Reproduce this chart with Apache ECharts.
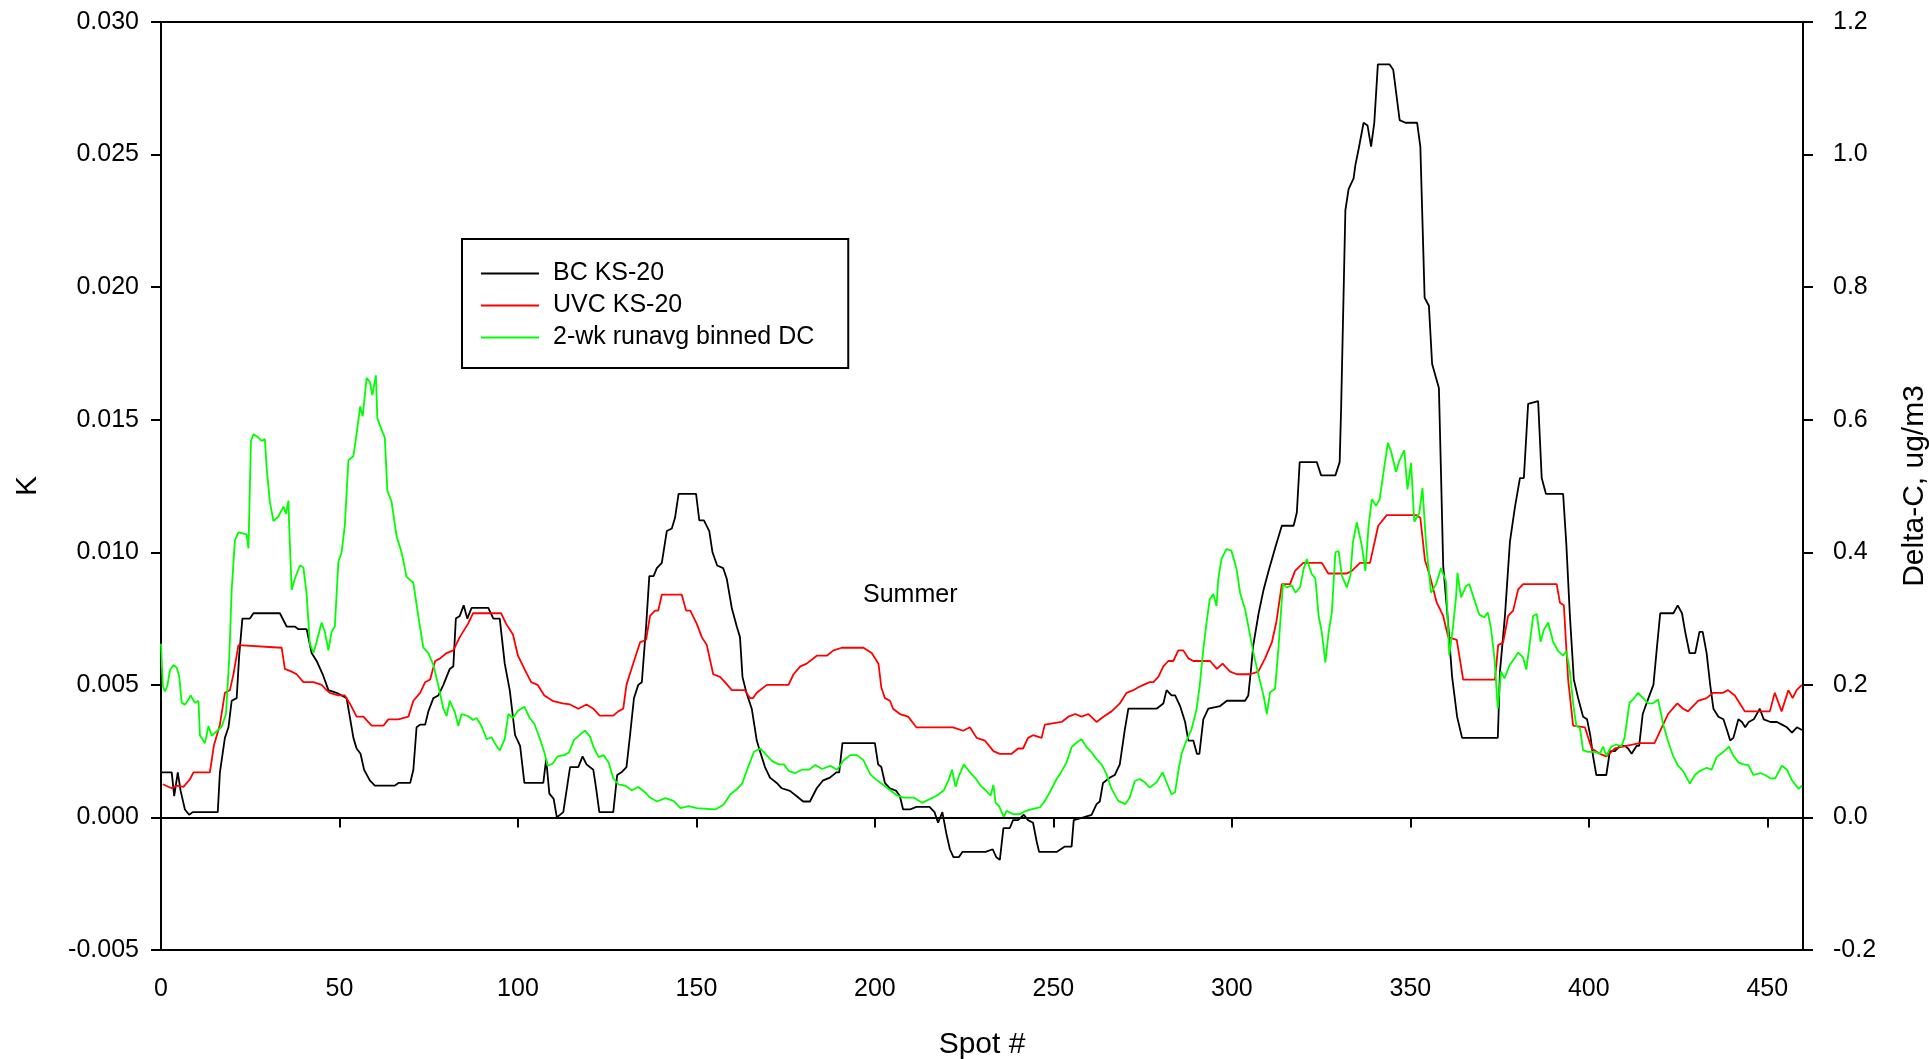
<!DOCTYPE html>
<html>
<head>
<meta charset="utf-8">
<title>BC / UVC KS-20 and Delta-C</title>
<script src="https://cdn.jsdelivr.net/npm/echarts@6/dist/echarts.min.js"></script>
<style>
    html, body { margin: 0; padding: 0; background: #fff; }
    #chart { width: 1929px; height: 1059px; }
</style>
</head>
<body>
<div id="chart"></div>
<script>
// [spot #, K] -- BC KS-20, left axis
const bcData = [
    [0,0.0017],[3,0.0017],[3.7,0.0008],[4.7,0.0017],[5.5,0.0010],[6.7,0.0003],[7.9,0.0001],[8.9,0.0002],[15.9,0.0002],
    [16.5,0.0017],[17.9,0.0030],[18.9,0.0034],[19.8,0.0044],[21.2,0.0045],[21.9,0.0061],[22.8,0.0075],[24.9,0.0075],
    [25.9,0.0077],[33.3,0.0077],[35.2,0.0072],[37.5,0.0072],[38.5,0.0071],[40.8,0.0071],[42.2,0.0062],[43.6,0.0059],
    [45.3,0.0054],[46.9,0.0048],[49.2,0.0047],[52,0.0045],[53.9,0.0030],[54.8,0.0026],[55.9,0.0024],[56.9,0.0018],
    [58.5,0.0014],[59.9,0.0012],[65.5,0.0012],[66.5,0.0013],[69.8,0.0013],[70.7,0.0018],[71.6,0.0034],[72.6,0.0035],
    [74,0.0035],[74.9,0.0040],[76.3,0.0045],[77.7,0.0046],[79.1,0.0050],[80.9,0.0056],[81.9,0.0057],[82.6,0.0075],
    [83.7,0.0076],[84.8,0.0080],[85.8,0.0075],[87,0.0079],[91.7,0.0079],[93.1,0.0075],[94.9,0.0075],[96.3,0.0058],
    [97.7,0.0048],[99.2,0.0031],[100.6,0.0027],[101.8,0.0013],[107.1,0.0013],[107.9,0.0022],[108.8,0.0009],[110,0.0007],
    [110.9,0.0000],[112.7,0.0002],[114.6,0.0019],[116.9,0.0019],[118.1,0.0023],[119.2,0.0020],[121.1,0.0018],[121.9,0.0011],
    [122.8,0.0002],[126.7,0.0002],[127.8,0.0016],[129,0.0017],[130.4,0.0019],[131.4,0.0031],[132.5,0.0045],[133.7,0.0050],
    [134.7,0.0051],[135.9,0.0072],[136.8,0.0091],[138,0.0091],[138.9,0.0094],[140.3,0.0096],[141.7,0.0108],[143.1,0.0109],
    [144,0.0113],[145,0.0122],[149.9,0.0122],[150.8,0.0112],[152.1,0.0112],[153.6,0.0108],[154.5,0.0100],[155.8,0.0095],
    [157.5,0.0094],[158.5,0.0090],[159.9,0.0079],[161.3,0.0072],[162.2,0.0068],[162.9,0.0053],[164,0.0047],[165.5,0.0041],
    [166.9,0.0029],[167.8,0.0025],[169.2,0.0019],[170.6,0.0015],[172.5,0.0013],[173.9,0.0011],[176.2,0.0010],[178.1,0.0008],
    [179.9,0.0006],[181.8,0.0006],[183.7,0.0011],[185.5,0.0014],[187.4,0.0015],[189.2,0.0017],[190,0.0017],[190.9,0.0028],
    [200,0.0028],[200.9,0.0020],[201.8,0.0019],[202.8,0.0013],[204.2,0.0011],[206,0.0010],[207,0.0008],[207.9,0.0003],
    [209.8,0.0003],[211.6,0.0004],[215.3,0.0004],[216.7,0.0002],[217.7,-0.0002],[218.9,0.0002],[220,-0.0006],[221,-0.0012],
    [222,-0.0015],[223.5,-0.0015],[224.5,-0.0013],[231,-0.0013],[233,-0.0012],[234,-0.0015],[235,-0.0016],[236,-0.0004],
    [237.8,-0.0004],[238.7,-0.0001],[240.1,-0.0001],[241.7,0.0001],[242.9,-0.0001],[244.3,-0.0002],[245.3,-0.0009],[246,-0.0013],
    [250.9,-0.0013],[253.2,-0.0011],[255.1,-0.0011],[255.7,-0.0001],[258.4,0.0000],[260.7,0.0001],[262.1,0.0005],[263,0.0006],
    [263.9,0.0013],[265.8,0.0015],[267.2,0.0016],[268.6,0.0020],[270,0.0033],[271,0.0041],[278.9,0.0041],[280.8,0.0043],
    [281.7,0.0048],[283.1,0.0046],[284.1,0.0046],[285.5,0.0042],[286.9,0.0036],[287.8,0.0029],[289.2,0.0029],[290.2,0.0024],
    [290.9,0.0024],[292,0.0037],[293.4,0.0041],[296.7,0.0042],[298.6,0.0044],[303.7,0.0044],[304.6,0.0046],[305.3,0.0055],
    [306,0.0065],[307.5,0.0077],[308.9,0.0086],[310.3,0.0093],[312.2,0.0102],[314,0.0110],[317.3,0.0110],[318.2,0.0115],
    [319,0.0134],[323.8,0.0134],[325,0.0129],[329,0.0129],[330.2,0.0134],[330.6,0.0154],[331.4,0.0204],[331.8,0.0229],
    [332.7,0.0237],[334.1,0.0241],[334.6,0.0246],[335.5,0.0252],[336.9,0.0262],[338,0.0261],[339,0.0253],[339.9,0.0262],
    [340.9,0.0284],[344.2,0.0284],[345.2,0.0282],[347,0.0263],[348.6,0.0262],[351.9,0.0262],[352.8,0.0253],[354,0.0196],
    [355.2,0.0193],[356.1,0.0171],[358,0.0162],[358.6,0.0129],[359.2,0.0095],[360.3,0.0078],[361.7,0.0053],[363.1,0.0038],
    [364.5,0.0030],[374.5,0.0030],[375.1,0.0055],[376.5,0.0076],[377.9,0.0104],[379.3,0.0117],[380.7,0.0128],[381.8,0.0128],
    [383,0.0156],[385.8,0.0157],[386.8,0.0128],[388,0.0122],[392.8,0.0122],[393.7,0.0103],[394.7,0.0076],[395.8,0.0052],
    [397,0.0045],[398.4,0.0038],[399.5,0.0037],[400.4,0.0031],[401.2,0.0023],[402.1,0.0016],[404.9,0.0016],[405.9,0.0025],
    [407.3,0.0025],[408.7,0.0027],[410.1,0.0027],[411,0.0026],[412,0.0024],[413.4,0.0027],[414.1,0.0027],[415.1,0.0039],
    [416.7,0.0045],[418.1,0.0050],[419,0.0063],[420,0.0077],[423.7,0.0077],[424.9,0.0080],[426.1,0.0077],[427,0.0070],
    [428.2,0.0062],[429.8,0.0062],[431,0.0070],[431.9,0.0070],[433,0.0062],[434,0.0050],[434.9,0.0041],[436.3,0.0038],
    [437.7,0.0037],[438.7,0.0033],[439.6,0.0029],[440.5,0.0030],[441.9,0.0037],[442.9,0.0036],[443.8,0.0034],[444.8,0.0036],
    [446.2,0.0037],[447.9,0.0041],[449,0.0037],[450.9,0.0036],[452.7,0.0036],[454.1,0.0035],[455.5,0.0034],[456.9,0.0032],
    [458.3,0.0034],[459.7,0.0033]
];

// [spot #, K] -- UVC KS-20, left axis
const uvcData = [
    [0.5,0.00125],[3,0.0011],[4.4,0.0012],[6.3,0.00115],[8.1,0.00144],[9.1,0.0017],[13.7,0.0017],[14.8,0.0027],[16.5,0.0035],
    [17.9,0.0047],[19.3,0.0048],[20.3,0.0054],[21.7,0.0065],[33.8,0.0064],[34.7,0.0056],[36.6,0.0055],[38,0.0054],[39.9,0.0051],
    [42.7,0.0051],[45,0.0050],[46.4,0.0048],[47.3,0.0047],[49.7,0.0046],[51.5,0.0046],[52.9,0.0043],[54.8,0.0038],[56.7,0.0038],
    [59,0.00346],[62.3,0.00346],[63.7,0.0037],[66.5,0.0037],[69.3,0.0038],[70.7,0.0044],[72.6,0.0047],[74,0.0051],[75.4,0.0052],
    [76.8,0.0059],[78.2,0.0060],[80,0.0062],[81.9,0.0063],[83.7,0.0068],[86,0.0073],[87.4,0.0077],[95.3,0.0077],[96.7,0.0073],
    [98.6,0.0069],[100,0.0061],[101.8,0.0056],[103.7,0.0051],[105.5,0.0050],[107.4,0.0046],[109.7,0.0044],[112.5,0.0043],
    [114.6,0.00426],[116.9,0.0041],[119.2,0.00426],[121.1,0.0041],[122.9,0.00384],[126.7,0.00384],[128.1,0.0040],[129.5,0.0041],
    [130.4,0.0050],[131.8,0.0056],[134.2,0.0066],[135.9,0.0067],[137,0.0076],[138.4,0.0078],[139.3,0.0078],[140.3,0.0084],
    [145.9,0.0084],[147.1,0.0078],[148.3,0.0078],[150.1,0.0073],[151.5,0.0068],[152.9,0.0065],[154.7,0.0054],[156.6,0.0053],
    [158,0.0051],[159.9,0.0048],[163.6,0.0048],[165,0.0045],[165.9,0.0045],[166.9,0.0047],[169.7,0.0050],[175.8,0.0050],
    [177.2,0.0054],[179.1,0.0057],[180.9,0.0058],[183.7,0.0061],[186.5,0.0061],[188.4,0.0063],[190.7,0.0064],[196.8,0.0064],
    [199.1,0.0062],[201,0.0058],[201.8,0.0049],[202.8,0.0045],[204.2,0.0044],[205.1,0.0041],[207,0.0039],[209.3,0.0038],
    [211.6,0.0034],[221.9,0.0034],[224.7,0.00327],[226.6,0.0034],[228.5,0.0030],[230.8,0.0029],[233.2,0.0025],[235,0.0024],
    [238.3,0.0024],[240.1,0.0026],[241.5,0.0026],[242.9,0.0030],[244.3,0.0031],[246.7,0.0030],[247.6,0.0035],[252.3,0.0036],
    [254.2,0.0038],[256.1,0.0039],[257.9,0.0038],[259.8,0.0039],[262.1,0.0036],[264,0.0038],[266.3,0.0040],[268.6,0.0043],
    [270.5,0.0047],[272.4,0.0048],[273.7,0.0049],[275.2,0.0050],[277,0.0051],[278,0.0051],[279.4,0.0053],[280.8,0.0057],
    [282.2,0.0059],[283.6,0.0059],[285,0.0063],[286.4,0.0063],[287.8,0.0060],[289.2,0.0059],[293.9,0.0059],[295.8,0.0056],
    [297.4,0.0058],[299.5,0.0055],[301.4,0.0054],[305.1,0.0054],[307.4,0.0055],[309.3,0.0060],[311.2,0.0066],[312.5,0.0074],
    [314,0.0088],[316.3,0.0088],[317.7,0.0093],[320,0.0096],[325.2,0.0096],[327,0.0092],[332.2,0.0092],[333.6,0.0093],
    [335.9,0.0096],[338.7,0.0096],[341,0.0110],[343.4,0.0114],[351.7,0.0114],[352.8,0.0113],[354.1,0.0097],[355.5,0.0091],
    [357.4,0.0081],[359.2,0.0076],[360.6,0.0068],[363,0.0067],[364.8,0.0052],[373.7,0.0052],[374.6,0.0065],[376,0.0066],
    [377.4,0.0076],[378.8,0.0078],[380.2,0.0086],[381.6,0.0088],[391,0.0088],[391.9,0.0081],[393,0.0080],[394.2,0.0052],
    [395.6,0.00346],[398.9,0.0034],[400.8,0.0026],[403.1,0.0024],[404.9,0.0023],[407.3,0.0026],[410.5,0.0027],[414.3,0.0028],
    [418.4,0.0028],[420.8,0.0035],[422.2,0.0039],[424.8,0.0043],[426.4,0.0041],[427.8,0.0040],[429.2,0.0042],[430.6,0.0044],
    [433,0.0045],[434.8,0.0047],[437.6,0.0047],[439,0.0048],[440.9,0.0046],[442.3,0.0043],[443.7,0.0040],[447,0.0040],
    [450.7,0.0040],[452.1,0.0047],[454,0.0040],[455.9,0.0048],[457.1,0.0045],[458.2,0.0048],[459.7,0.0050]
];

// [spot #, ug/m3] -- 2-wk runavg binned DC, right axis
const dcData = [
    [0,0.262],[0.5,0.199],[1.1,0.19],[1.8,0.199],[2.5,0.222],[3.5,0.23],[4.4,0.226],[5.1,0.213],[5.8,0.173],[6.7,0.17],
    [7.7,0.178],[8.3,0.184],[9.5,0.173],[10.5,0.176],[10.9,0.124],[12.3,0.112],[13.3,0.138],[14.2,0.123],[15.6,0.13],[17,0.137],
    [18.2,0.156],[19.1,0.239],[19.8,0.343],[20.7,0.418],[21.7,0.43],[24,0.427],[24.5,0.406],[25.2,0.568],[25.9,0.578],
    [27.3,0.573],[28.2,0.568],[29.1,0.571],[29.6,0.527],[30.5,0.476],[31.5,0.447],[32.9,0.454],[34.3,0.469],[35,0.458],
    [35.7,0.478],[35.9,0.441],[36.6,0.343],[37.5,0.36],[38.9,0.38],[39.9,0.377],[40.8,0.337],[41.7,0.262],[42.7,0.248],
    [43.6,0.265],[45,0.294],[45.9,0.28],[46.9,0.252],[47.8,0.28],[48.7,0.288],[49.7,0.386],[50.6,0.4],[51.5,0.441],
    [52.5,0.539],[53.9,0.545],[54.8,0.579],[55.8,0.62],[56.5,0.605],[57.6,0.663],[58.5,0.657],[59.2,0.637],[60.2,0.667],
    [60.6,0.602],[61.8,0.585],[62.7,0.573],[63.4,0.493],[64.6,0.476],[66,0.424],[67.4,0.4],[68.8,0.363],[70.7,0.354],
    [72.1,0.303],[73.5,0.256],[74.9,0.248],[76.3,0.23],[77.7,0.199],[79.1,0.164],[80,0.153],[80.9,0.176],[82.3,0.159],
    [83.3,0.138],[84.2,0.156],[86,0.153],[87.4,0.147],[88.4,0.15],[89.8,0.138],[91.2,0.118],[92.6,0.121],[93.5,0.112],
    [94.9,0.101],[96.3,0.118],[97.3,0.156],[98.6,0.15],[100,0.161],[101.8,0.167],[103.3,0.15],[104.6,0.141],[106,0.121],
    [107.4,0.098],[108.3,0.078],[109.7,0.081],[111.1,0.092],[113,0.094],[114.3,0.098],[115.7,0.117],[117.4,0.125],
    [118.8,0.131],[120.2,0.122],[121.1,0.107],[122.6,0.091],[124,0.094],[125.4,0.083],[126.7,0.059],[128.1,0.05],
    [130,0.048],[131.9,0.041],[133.7,0.046],[135.6,0.038],[137,0.03],[138.9,0.024],[141.3,0.029],[143.6,0.025],
    [145.5,0.014],[147.8,0.017],[150.1,0.014],[152.9,0.013],[155.3,0.012],[157.6,0.019],[159.5,0.035],[161.4,0.043],
    [162.8,0.051],[164.2,0.072],[166.1,0.099],[167.9,0.104],[169.3,0.096],[171.2,0.085],[173.1,0.08],[174.5,0.08],
    [175.9,0.07],[177.7,0.067],[179.6,0.072],[181.5,0.072],[183.3,0.079],[185.2,0.073],[187.5,0.078],[189.4,0.072],
    [191.2,0.086],[193.1,0.094],[195,0.094],[196.8,0.086],[198.7,0.065],[200.6,0.056],[202.4,0.049],[204.3,0.041],
    [206.2,0.033],[208.1,0.03],[210.9,0.03],[213.2,0.022],[215.5,0.028],[217.4,0.033],[219.3,0.041],[220.7,0.057],
    [221.6,0.072],[222.6,0.046],[223.5,0.062],[224.9,0.08],[226.8,0.067],[228.2,0.059],[229.6,0.048],[231,0.041],
    [232.4,0.033],[233.2,0.049],[233.8,0.022],[234.8,0.017],[236.1,0.001],[236.9,0.01],[238.7,0.005],[240.6,0.005],
    [242.4,0.01],[244.3,0.013],[246.2,0.015],[247.6,0.025],[249,0.038],[250.9,0.058],[251.8,0.065],[253.7,0.083],
    [255.1,0.106],[256.5,0.113],[257.9,0.118],[259.3,0.106],[260.7,0.098],[262.1,0.088],[263.5,0.08],[264.9,0.065],
    [266.3,0.043],[268.2,0.025],[270.1,0.02],[271.4,0.03],[272.8,0.055],[274.2,0.058],[275.6,0.053],[277,0.045],
    [278.9,0.053],[280.6,0.068],[281.7,0.053],[283.1,0.035],[284.1,0.038],[285,0.07],[285.9,0.096],[287.3,0.116],
    [288.7,0.133],[290.1,0.163],[291,0.199],[292,0.254],[292.9,0.294],[293.8,0.329],[294.8,0.337],[295.7,0.319],
    [296.2,0.36],[297.1,0.39],[298.5,0.405],[299.9,0.402],[301.3,0.375],[302.3,0.339],[303.7,0.314],[304.6,0.289],
    [306,0.249],[307.5,0.214],[308.9,0.183],[309.8,0.156],[310.7,0.189],[312.1,0.194],[313.1,0.259],[314.3,0.352],
    [315.4,0.347],[316.8,0.35],[317.8,0.339],[319.1,0.347],[320.1,0.375],[321,0.39],[322.4,0.367],[323.4,0.36],
    [324.3,0.304],[325.2,0.279],[326.2,0.234],[327.1,0.279],[328,0.309],[329,0.4],[329.9,0.402],[330.8,0.365],
    [332.2,0.347],[333.2,0.365],[333.9,0.415],[335,0.445],[336.4,0.41],[337.4,0.372],[338.3,0.44],[339.2,0.48],
    [340.4,0.47],[341.4,0.48],[342.3,0.514],[343.7,0.565],[344.6,0.552],[346,0.521],[346.9,0.538],[348.3,0.554],
    [349.2,0.495],[350.2,0.535],[351.1,0.446],[352.5,0.459],[353.4,0.497],[354.4,0.413],[355.8,0.339],[357.2,0.352],
    [358.6,0.376],[360,0.356],[360.9,0.245],[361.9,0.285],[362.8,0.332],[363.2,0.369],[364.2,0.332],[365.6,0.349],
    [366.5,0.352],[367.9,0.329],[369.3,0.306],[370.7,0.302],[371.7,0.309],[372.6,0.285],[373.6,0.238],[374.5,0.164],
    [375.4,0.22],[376.4,0.21],[377.8,0.23],[379.2,0.24],[380.2,0.249],[381.6,0.241],[382.5,0.223],[383.5,0.265],
    [384.4,0.304],[385.4,0.307],[385.8,0.31],[386.5,0.265],[387.4,0.283],[388.6,0.294],[390,0.265],[391.4,0.251],
    [392.8,0.244],[393.7,0.251],[394.7,0.22],[395.6,0.172],[396.5,0.138],[397.5,0.135],[398.4,0.101],[399.8,0.099],
    [401.7,0.099],[403.1,0.096],[404,0.107],[404.9,0.093],[406.3,0.107],[407.7,0.11],[409.1,0.107],[410,0.12],
    [411.4,0.173],[412.4,0.178],[413.8,0.188],[415.2,0.18],[416.6,0.172],[418,0.172],[419.4,0.178],[420.8,0.141],
    [422.2,0.115],[423.6,0.093],[425,0.078],[426.4,0.07],[428.3,0.051],[429.7,0.064],[431.1,0.07],[433,0.075],
    [434.4,0.072],[435.8,0.091],[437.7,0.099],[439.3,0.107],[440.5,0.093],[441.9,0.083],[443.3,0.08],[444.7,0.079],
    [446.1,0.064],[448,0.067],[449.4,0.064],[450.8,0.059],[452.2,0.059],[454.1,0.078],[455.5,0.072],[456.9,0.056],
    [458.8,0.043],[459.7,0.048]
];

const seriesNames = ['BC KS-20', 'UVC KS-20', '2-wk runavg binned DC'];
const seriesColors = ['#000000', '#ff0000', '#00ff00'];
const seasonLabel = 'Summer';

const FONT = '"Liberation Sans", Arial, sans-serif';

const chart = echarts.init(document.getElementById('chart'), null, { renderer: 'canvas' });

const axisCommon = {
    axisLine: { show: true, lineStyle: { color: '#000', width: 2 } },
    axisTick: { show: true, inside: false, length: 10, lineStyle: { color: '#000', width: 2 } },
    splitLine: { show: false },
    nameTextStyle: { color: '#000', fontSize: 30, fontFamily: FONT },
    nameLocation: 'middle'
};

const option = {
    animation: false,
    backgroundColor: '#fff',
    textStyle: { fontFamily: FONT },
    grid: {
        left: 161, right: 126, top: 22, bottom: 109,
        outerBoundsMode: 'none',
        show: true, borderColor: '#000', borderWidth: 2, backgroundColor: 'transparent'
    },
    legend: {
        orient: 'vertical',
        left: 462, top: 239,
        padding: [22, 34, 18, 19],
        itemGap: 7,
        itemWidth: 58, itemHeight: 2,
        icon: 'rect',
        borderColor: '#000', borderWidth: 2,
        backgroundColor: '#fff',
        textStyle: { color: '#000', fontSize: 25, fontFamily: FONT, padding: [0, 0, 0, 9], lineHeight: 25 },
        data: seriesNames
    },
    xAxis: Object.assign({}, axisCommon, {
        type: 'value', min: 0, max: 460, interval: 50,
        name: 'Spot #', nameGap: 80,
        axisLabel: { color: '#000', fontSize: 25, fontFamily: FONT, margin: 27 }
    }),
    yAxis: [
        Object.assign({}, axisCommon, {
            type: 'value', position: 'left', min: -0.005, max: 0.030, interval: 0.005,
            name: 'K', nameGap: 118,
            axisLabel: { color: '#000', fontSize: 25, fontFamily: FONT, margin: 22, formatter: v => v.toFixed(3) }
        }),
        Object.assign({}, axisCommon, {
            type: 'value', position: 'right', min: -0.2, max: 1.2, interval: 0.2,
            name: 'Delta-C, ug/m3', nameGap: 97,
            axisLabel: { color: '#000', fontSize: 25, fontFamily: FONT, margin: 30, formatter: v => v.toFixed(1) }
        })
    ],
    graphic: [{
        type: 'text',
        left: 863, top: 583,
        style: { text: seasonLabel, fill: '#000', fontSize: 25, fontFamily: FONT }
    }],
    series: [
        {
            name: seriesNames[0], type: 'line', yAxisIndex: 0, data: bcData,
            showSymbol: false, symbol: 'none',
            lineStyle: { color: seriesColors[0], width: 1.8 },
            itemStyle: { color: seriesColors[0] },
            markLine: {
                silent: true, symbol: ['none', 'none'], label: { show: false },
                lineStyle: { color: '#000', width: 1.5, type: 'solid' },
                data: [{ yAxis: 0 }]
            }
        },
        {
            name: seriesNames[1], type: 'line', yAxisIndex: 0, data: uvcData,
            showSymbol: false, symbol: 'none',
            lineStyle: { color: seriesColors[1], width: 1.8 },
            itemStyle: { color: seriesColors[1] }
        },
        {
            name: seriesNames[2], type: 'line', yAxisIndex: 1, data: dcData,
            showSymbol: false, symbol: 'none',
            lineStyle: { color: seriesColors[2], width: 1.8 },
            itemStyle: { color: seriesColors[2] }
        }
    ]
};

chart.setOption(option);
</script>
</body>
</html>
